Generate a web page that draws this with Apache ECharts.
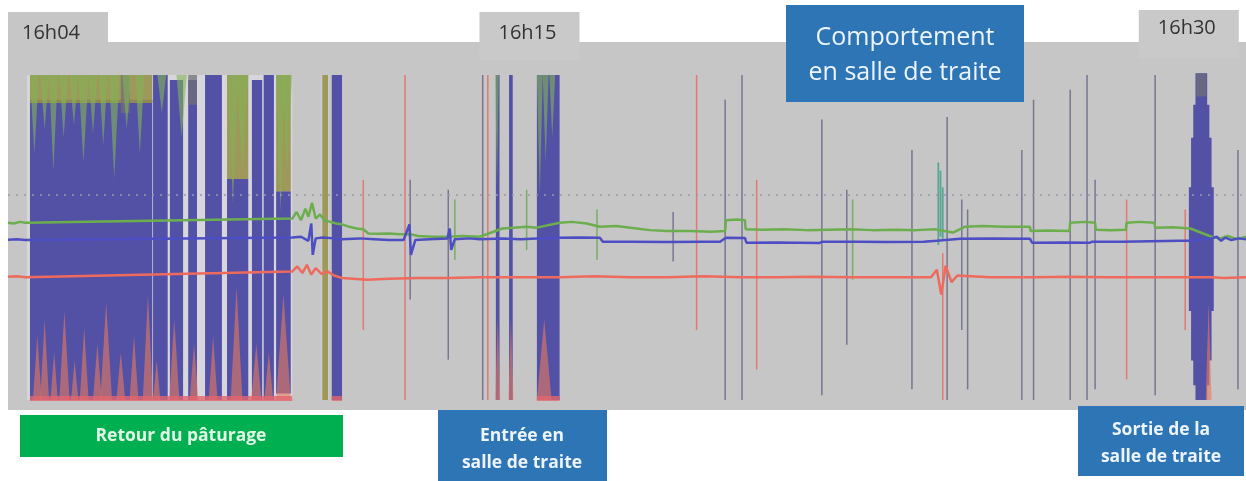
<!DOCTYPE html>
<html><head><meta charset="utf-8">
<script src="https://cdn.jsdelivr.net/npm/echarts@6/dist/echarts.min.js"></script>
<style>html,body{margin:0;padding:0;background:#fff;}#c{width:1246px;height:481px;}</style>
</head><body><div id="c"></div>
<script>
// time in seconds after 16:04:00, acceleration in g
const tickLabels = ['16h04', '16h15', '16h30'];
const tickTimes = [0, 660, 1560];
const noteTexts = ['Comportement\nen salle de traite', 'Retour du pâturage', 'Entrée en\nsalle de traite', 'Sortie de la\nsalle de traite'];

const greenBase = [[0,0.17],[8,0.16],[16,0.18],[24,0.17],[388,0.22],[394,0.3],[400,0.2],[406,0.34],[410,0.24],[415,0.41],[420,0.22],[426,0.27],[432,0.2],[440,0.18],[448,0.16],[456,0.15],[466,0.12],[476,0.1],[485,0.09],[492,0.04],[505,0.035],[520,0.04],[535,0.03],[549,0.03],[560,0.01],[580,0.0],[600,0.0],[620,0.01],[644,0.0],[675,0.1],[690,0.11],[708,0.12],[722,0.11],[753,0.17],[770,0.18],[790,0.16],[808,0.12],[830,0.13],[850,0.11],[876,0.08],[900,0.07],[930,0.07],[960,0.06],[979,0.07],[980,0.2],[995,0.21],[1006,0.2],[1007,0.09],[1030,0.085],[1060,0.09],[1090,0.08],[1120,0.085],[1150,0.09],[1180,0.08],[1210,0.085],[1240,0.08],[1265,0.09],[1290,0.05],[1306,0.12],[1330,0.13],[1360,0.12],[1395,0.12],[1396,0.07],[1420,0.075],[1449,0.07],[1450,0.17],[1470,0.18],[1484,0.17],[1485,0.085],[1505,0.08],[1526,0.085],[1527,0.17],[1545,0.18],[1565,0.17],[1566,0.11],[1590,0.115],[1614,0.1],[1643,0.0],[1655,-0.02],[1665,0.01],[1678,-0.03],[1690,0.0]];
const blueBase = [[0,-0.036],[12,-0.03],[24,-0.04],[388,-0.01],[400,0.0],[410,-0.05],[414,0.16],[416,-0.22],[420,-0.02],[430,-0.01],[445,-0.02],[456,-0.03],[480,-0.02],[500,-0.03],[520,-0.04],[540,-0.04],[548,0.15],[550,-0.22],[556,-0.04],[575,-0.03],[600,-0.02],[603,0.1],[605,-0.16],[610,-0.03],[630,-0.02],[644,-0.03],[675,-0.02],[700,-0.03],[722,-0.02],[753,-0.012],[780,-0.01],[808,-0.012],[812,-0.06],[850,-0.06],[900,-0.065],[950,-0.06],[972,-0.06],[980,-0.012],[1006,-0.015],[1008,-0.073],[1050,-0.07],[1108,-0.075],[1112,-0.06],[1160,-0.06],[1200,-0.065],[1250,-0.06],[1268,-0.05],[1300,-0.024],[1340,-0.02],[1395,-0.024],[1398,-0.073],[1440,-0.07],[1477,-0.073],[1480,-0.06],[1520,-0.06],[1560,-0.055],[1600,-0.05],[1614,-0.05],[1643,-0.02],[1650,0.0],[1656,-0.05],[1662,-0.01],[1670,-0.04],[1680,-0.02],[1690,-0.03]];
const redBase = [[0,-0.485],[12,-0.48],[24,-0.49],[388,-0.42],[395,-0.36],[402,-0.44],[408,-0.34],[414,-0.46],[420,-0.38],[428,-0.45],[436,-0.42],[445,-0.47],[456,-0.5],[490,-0.52],[520,-0.51],[560,-0.5],[600,-0.5],[644,-0.49],[700,-0.49],[753,-0.49],[800,-0.48],[850,-0.49],[900,-0.49],[950,-0.48],[1000,-0.49],[1050,-0.49],[1100,-0.485],[1150,-0.49],[1200,-0.49],[1260,-0.49],[1268,-0.4],[1274,-0.7],[1280,-0.35],[1288,-0.55],[1296,-0.47],[1340,-0.49],[1400,-0.49],[1450,-0.485],[1500,-0.49],[1560,-0.49],[1614,-0.49],[1643,-0.49],[1660,-0.5],[1690,-0.49]];

// activity envelopes: [tStart, tEnd, max, min]
const paleBursts = [[26,388,1.96,-1.98],[428,438,1.96,-1.98]];
const blueBursts = [[30,197,1.66,-1.98],[198,218,1.96,-1.98],[221,239,1.9,-1.98],[246,258,1.9,-1.98],[269,292,1.96,-1.98],[299,328,0.7,-1.98],[333,347,1.9,-1.98],[349,363,1.96,-1.98],[366,386,0.55,-1.9],[442,456,1.96,-1.98],[666,671,1.96,-1.98],[684,689,1.96,-1.98],[722,753,1.96,-1.98],[1612,1646,0.6,-0.9],[1615,1643,1.2,-1.5],[1618,1640,1.6,-1.8],[1621,1637,1.98,-1.98]];
const oliveBursts = [[30,197,1.96,1.62],[299,328,1.96,0.7],[366,386,1.96,0.55],[429,437,1.96,-1.98]];
const greyTops = [[1622,1636,1.98,1.7],[154,166,1.96,1.5],[246,258,1.96,1.6]];
// peaks hanging from the top (green) and rising from the bottom (red): [tStart, tEnd, base, tip]
const greenDrips = [[30,42,1.96,1.0],[44,56,1.96,1.3],[56,68,1.96,0.8],[70,82,1.96,1.2],[84,96,1.96,1.35],[96,110,1.96,0.9],[110,122,1.96,1.25],[124,136,1.96,1.1],[138,152,1.96,0.7],[156,168,1.96,1.3],[174,186,1.96,1.0],[204,216,1.96,1.5],[230,244,1.96,1.2],[300,314,1.96,0.4],[312,328,1.96,0.8],[366,378,1.96,0.3],[374,388,1.96,0.8],[722,730,1.96,0.5],[730,738,1.96,0.9],[739,747,1.96,1.2],[665,670,1.96,0.6]];
const redFlames = [[34,46,-1.98,-1.2],[44,56,-1.98,-1.0],[58,68,-1.98,-1.4],[70,84,-1.98,-0.9],[86,96,-1.98,-1.5],[98,110,-1.98,-1.1],[116,128,-1.98,-1.3],[126,142,-1.98,-0.8],[148,160,-1.98,-1.4],[166,178,-1.98,-1.2],[184,198,-1.98,-0.7],[198,208,-1.98,-1.5],[220,234,-1.98,-1.0],[248,260,-1.98,-1.3],[274,286,-1.98,-1.2],[304,320,-1.98,-0.6],[332,346,-1.98,-1.3],[350,362,-1.98,-1.4],[366,386,-1.98,-0.7],[722,742,-1.98,-1.0],[665,672,-1.98,-1.0],[683,690,-1.98,-1.0],[1635,1643,-1.98,-0.8]];
const redFloor = [[30,388,-1.93,-1.99],[442,456,-1.93,-1.99],[722,753,-1.93,-1.99]];
// isolated peaks: [t, max, min]
const blueSpikes = [[549,0.69,-0.76],[601,0.57,-1.49],[648,1.96,-1.98],[908,0.3,-0.3],[979,1.66,-1.98],[1002,1.96,-1.98],[1111,1.42,-1.92],[1145,0.57,-1.31],[1234,1.05,-1.85],[1282,1.45,-1.98],[1302,0.45,-1.13],[1310,0.33,-1.85],[1384,1.05,-1.98],[1400,1.66,-1.98],[1450,1.78,-1.98],[1473,1.96,-1.98],[1484,0.69,-1.85],[1566,1.96,-1.92],[1679,1.05,-1.85]];
const redSpikes = [[485,0.69,-1.13],[542,1.96,-1.98],[655,1.96,-1.98],[940,1.96,-1.13],[1022,0.69,-1.61],[1276,-0.2,-1.98],[1527,0.45,-1.73],[1607,0.33,-1.13]];
const greenSpikes = [[610,0.45,-0.28],[708,0.57,-0.16],[804,0.33,-0.28],[1153,0.45,-0.52]];
const tealSpikes = [[1270,0.9,-0.1],[1273,0.8,0.0],[1276,0.6,-0.05]];
const refLevel = 0.51;

const chart = echarts.init(document.getElementById('c'));

function envRender(fill, minW) {
  return function (params, api) {
    const p0 = api.coord([api.value(0), api.value(2)]);
    const p1 = api.coord([api.value(1), api.value(3)]);
    let x = p0[0], w = p1[0] - p0[0];
    if (w < minW) { x -= (minW - w) / 2; w = minW; }
    return { type: 'rect', shape: { x: x, y: p0[1], width: w, height: p1[1] - p0[1] }, style: { fill: fill } };
  };
}
function peakRender(fill) {
  return function (params, api) {
    const a = api.coord([api.value(0), api.value(2)]);
    const b = api.coord([api.value(1), api.value(2)]);
    const c = api.coord([(api.value(0) + api.value(1)) / 2, api.value(3)]);
    return { type: 'polygon', shape: { points: [a, b, c] }, style: { fill: fill } };
  };
}
function envSeries(name, data, fill, minW) {
  return { name: name, type: 'custom', renderItem: envRender(fill, minW || 1.4), data: data,
    encode: { x: [0, 1], y: [2, 3] }, clip: true, silent: true };
}
function peakSeries(name, data, fill) {
  return { name: name, type: 'custom', renderItem: peakRender(fill), data: data,
    encode: { x: [0, 1], y: [2, 3] }, clip: true, silent: true };
}
const asEnv = arr => arr.map(d => [d[0], d[0], d[1], d[2]]);
function lineSeries(name, data, color) {
  return { name: name, type: 'line', data: data, showSymbol: false, symbol: 'none',
    lineStyle: { color: color, width: 2.5 }, silent: true };
}

const gSeries = lineSeries('X', greenBase, '#6cae4e');
gSeries.markLine = { silent: true, symbol: 'none', label: { show: false },
  lineStyle: { type: [2, 6], color: '#9c98a8', width: 1.6 }, data: [{ yAxis: refLevel }] };

chart.setOption({
  animation: false,
  backgroundColor: '#ffffff',
  grid: { left: 8, right: 0, top: 42, bottom: 71, show: true, backgroundColor: '#c6c6c6', borderWidth: 0, outerBoundsMode: 'none' },
  xAxis: { type: 'value', min: 0, max: 1690, show: false },
  yAxis: { type: 'value', min: -2.1, max: 2.36, show: false },
  series: [
    envSeries('fond', paleBursts, '#d6d6dc'),
    gSeries,
    lineSeries('Y', blueBase, '#4d4dc4'),
    lineSeries('Z', redBase, '#ee6a5c'),
    envSeries('Y activité', blueBursts, '#5351a6'),
    envSeries('XZ activité', oliveBursts, 'rgba(150,145,72,0.88)'),
    envSeries('XYZ activité', greyTops, 'rgba(112,112,120,0.75)'),
    peakSeries('X activité', greenDrips, 'rgba(130,180,86,0.6)'),
    peakSeries('Z activité', redFlames, 'rgba(232,122,92,0.6)'),
    envSeries('Z plancher', redFloor, 'rgba(228,100,110,0.8)'),
    envSeries('Y pics', asEnv(blueSpikes), 'rgba(104,104,136,0.85)', 1.5),
    envSeries('Z pics', asEnv(redSpikes), 'rgba(228,108,100,0.85)', 1.5),
    envSeries('X pics', asEnv(greenSpikes), 'rgba(112,168,90,0.9)', 1.5),
    envSeries('XY pics', asEnv(tealSpikes), 'rgba(70,160,140,0.85)', 1.8)
  ]
});

const graphics = [];
const font = '"Open Sans", "DejaVu Sans", sans-serif';
tickTimes.forEach((t, i) => {
  const px = chart.convertToPixel({ xAxisIndex: 0 }, t);
  const left = Math.max(8, px - 12);
  const first = left <= 8;
  graphics.push({ type: 'rect', z: 100, shape: { x: left, y: i === 2 ? 10 : 12, width: 100, height: first ? 31 : 48 },
    style: { fill: first ? '#c6c6c6' : '#c9c9c9' } });
  graphics.push({ type: 'text', z: 101, x: first ? left + 14 : left + 48, y: i === 2 ? 28 : 33,
    style: { text: tickLabels[i], fill: '#333333', font: '20px ' + font,
      align: first ? 'left' : 'center', textAlign: first ? 'left' : 'center', verticalAlign: 'middle', textVerticalAlign: 'middle' } });
});
const boxes = [
  { x: 786, y: 5, w: 238, h: 97, fill: '#2e75b6', tx: 905, ty: 55, font: '25px ' + font, lh: 35, color: '#eef4fb' },
  { x: 20, y: 415, w: 323, h: 42, fill: '#00b050', tx: 181, ty: 436, font: 'bold 17.5px ' + font, lh: 27, color: '#e2f6e6' },
  { x: 438, y: 410, w: 169, h: 75, fill: '#2e75b6', tx: 522, ty: 450, font: 'bold 17.5px ' + font, lh: 27, color: '#eef4fb' },
  { x: 1078, y: 406, w: 166, h: 70, fill: '#2e75b6', tx: 1161, ty: 444, font: 'bold 17.5px ' + font, lh: 27, color: '#eef4fb' }
];
boxes.forEach((b, i) => {
  graphics.push({ type: 'rect', z: 100, shape: { x: b.x, y: b.y, width: b.w, height: b.h }, style: { fill: b.fill } });
  graphics.push({ type: 'text', z: 101, x: b.tx, y: b.ty,
    style: { text: noteTexts[i], fill: b.color, font: b.font, lineHeight: b.lh,
      align: 'center', textAlign: 'center', verticalAlign: 'middle', textVerticalAlign: 'middle' } });
});
chart.setOption({ graphic: graphics });
</script></body></html>
